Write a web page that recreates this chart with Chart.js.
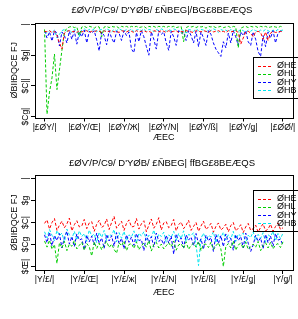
<!DOCTYPE html>
<html>
<head>
<meta charset="utf-8">
<script src="https://cdn.jsdelivr.net/npm/chart.js@4/dist/chart.umd.min.js"></script>
<style>
  html, body { margin: 0; padding: 0; background: #fff; }
  #wrap { position: relative; width: 298px; height: 319px; overflow: hidden; }
  canvas { position: absolute; left: 0; }
</style>
</head>
<body>
<div id="wrap">
  <canvas id="top" width="298" height="155" style="top:0"></canvas>
  <canvas id="bottom" width="298" height="164" style="top:155px"></canvas>
</div>
<script>
// labels (as they appear in the picture)
var seriesNames = ["ØHE", "ØHL", "ØHY", "ØHB"];
var colors = ["#ff0000", "#00cd00", "#0000ff", "#00e5ee"];
var xTickPos = [0, 16, 32, 48, 64, 80, 96];
var xTicksTop = ["|£ØY/|", "|£ØY/Œ|", "|£ØY/Ж|", "|£ØY/N|", "|£ØY/ß|", "|£ØY/ǥ|", "|£ØØ/|"];
var xTicksBottom = ["|Y/£/|", "|Y/£/Œ|", "|Y/£/ж|", "|Y/£/N|", "|Y/£/ß|", "|Y/£/ǥ|", "|Y/ǥ/|"];
var yTicksTop = [0, -50, -100, -150];
var yLabelsTop = ["|", "$g|", "$C||", "$Cg|"];
var yTicksBottom = [0, -5, -10, -15, -20];
var yLabelsBottom = ["|", "$g", "$C|", "$Cg", "$Œ|"];
var titleTop = "£ØѴ/P/C9/ D'YØB/ £ÑBEG|/BG£8BEÆQS";
var titleBottom = "£ØѴ/P/C9/ D'YØB/ £ÑBEG| ffBG£8BEÆQS";
var xTitle = "ÆEC";
var yTitle = "ØBIIÐQCE FJ";

// top panel series
var redTop = [
  -11,-12,-10,-13,-11,-18,-30,-40,-14,-11,
  -10,-12,-11,-13,-10,-12,-11,-10,-13,-11,
  -12,-10,-11,-13,-10,-12,-11,-10,-12,-11,
  -13,-10,-11,-12,-10,-11,-13,-10,-12,-11,
  -10,-12,-11,-13,-10,-11,-12,-10,-11,-13,
  -10,-12,-11,-10,-13,-11,-12,-10,-11,-12,
  -13,-10,-11,-12,-10,-11,-13,-10,-12,-11,
  -10,-12,-11,-13,-10,-12,-11,-10,-13,-32,
  -22,-12,-11,-14,-20,-12,-11,-13,-24,-12,
  -26,-14,-11,-13,-12,-11,-12];
var greenTop = [
  -8,-146,-110,-87,-48,-106,-74,-42,-12,-6,
  -4,-3,-5,-4,-18,-4,-3,-5,-3,-4,
  -6,-3,-4,-20,-4,-3,-5,-3,-4,-3,
  -6,-3,-4,-3,-5,-3,-4,-3,-5,-4,
  -3,-6,-3,-4,-3,-5,-3,-4,-3,-5,
  -3,-4,-3,-5,-4,-3,-28,-5,-3,-4,
  -3,-5,-3,-4,-3,-6,-3,-4,-3,-5,
  -4,-3,-5,-4,-3,-5,-3,-4,-38,-6,
  -4,-3,-5,-3,-4,-3,-5,-3,-4,-3,
  -5,-4,-3,-4,-5,-3,-4];
var blueTop = [
  -10,-22,-12,-27,-10,-14,-35,-12,-18,-30,
  -11,-24,-10,-32,-12,-20,-9,-30,-11,-14,
  -10,-25,-43,-12,-18,-33,-10,-22,-30,-11,
  -14,-26,-10,-18,-12,-40,-46,-13,-28,-10,
  -20,-36,-50,-12,-24,-40,-10,-16,-12,-30,
  -42,-11,-20,-34,-10,-14,-12,-26,-10,-18,
  -30,-11,-36,-12,-22,-34,-10,-16,-30,-40,
  -46,-52,-28,-38,-14,-30,-10,-20,-34,-12,
  -18,-10,-28,-34,-12,-24,-44,-52,-18,-36,
  -12,-22,-10,-30,-14,-11,-12];
var cyanTop = [
  -12,-14,-10,-13,-9,-22,-16,-10,-8,-11,
  -9,-13,-8,-10,-20,-9,-7,-11,-8,-10,
  -7,-12,-9,-8,-11,-7,-9,-12,-8,-10,
  -7,-9,-11,-8,-10,-7,-12,-9,-8,-10,
  -7,-11,-8,-9,-12,-8,-10,-7,-9,-11,
  -8,-10,-7,-9,-12,-8,-10,-14,-8,-9,
  -11,-7,-10,-8,-9,-12,-8,-10,-7,-9,
  -13,-8,-10,-9,-12,-8,-10,-9,-11,-8,
  -10,-13,-9,-11,-8,-10,-12,-9,-11,-8,
  -10,-12,-9,-11,-8,-10,-9];

// bottom panel series
var redBottom = [
  -10.2,-9.4,-11.5,-10.0,-9.1,-11.8,-10.6,-9.7,-11.2,-10.3,
  -9.0,-11.9,-10.5,-9.6,-11.0,-10.8,-9.3,-11.4,-10.1,-9.8,
  -12.0,-10.4,-9.5,-11.1,-10.7,-9.2,-11.6,-10.0,-8.6,-11.3,
  -10.5,-9.7,-11.8,-10.2,-9.4,-11.0,-10.9,-9.1,-11.5,-10.3,
  -9.6,-12.1,-10.6,-9.2,-11.3,-10.4,-8.9,-11.7,-10.1,-9.8,
  -11.2,-10.7,-9.3,-11.9,-10.5,-9.9,-11.4,-10.6,-9.5,-11.8,
  -10.9,-10.0,-12.0,-10.8,-9.7,-11.6,-11.0,-10.2,-12.2,-10.9,
  -10.1,-11.7,-11.2,-10.4,-12.1,-10.7,-10.0,-11.9,-11.3,-10.5,
  -12.3,-11.0,-10.2,-11.8,-11.4,-10.6,-12.2,-11.1,-10.3,-11.9,
  -11.5,-10.4,-12.0,-10.9,-10.1,-11.6,-11.2];
var greenBottom = [
  -14.2,-15.6,-14.0,-16.1,-15.0,-19.3,-14.6,-15.8,-14.3,-16.4,
  -14.9,-15.4,-14.1,-16.0,-15.2,-14.5,-16.3,-14.8,-15.5,-17.6,
  -14.4,-15.9,-14.7,-16.2,-15.1,-14.3,-15.7,-14.9,-16.1,-17.0,
  -14.6,-15.3,-14.2,-16.4,-15.0,-14.8,-15.9,-14.4,-16.2,-15.2,
  -14.7,-15.6,-14.1,-16.5,-15.0,-14.5,-15.8,-14.9,-16.0,-15.3,
  -14.6,-15.5,-14.2,-16.3,-15.1,-14.8,-15.9,-14.4,-16.1,-15.2,
  -14.7,-15.6,-14.3,-16.4,-15.0,-14.9,-15.7,-14.5,-16.2,-15.3,
  -14.6,-16.0,-20.0,-15.4,-14.8,-15.8,-14.2,-16.3,-15.1,-14.7,
  -15.9,-14.4,-16.1,-15.5,-14.9,-15.6,-14.3,-16.4,-15.2,-14.6,
  -15.8,-14.5,-16.0,-15.1,-14.8,-15.7,-14.4];
var blueBottom = [
  -12.8,-14.6,-12.2,-15.3,-13.0,-14.1,-12.5,-15.8,-13.4,-12.0,
  -14.9,-13.2,-15.5,-12.6,-14.0,-13.7,-16.2,-12.9,-14.4,-13.1,
  -15.1,-12.4,-14.7,-13.5,-15.9,-12.7,-14.2,-13.0,-15.4,-12.3,
  -14.8,-13.6,-16.0,-12.8,-14.5,-13.3,-15.2,-12.5,-14.1,-13.9,
  -16.4,-12.7,-14.6,-13.2,-15.6,-12.4,-14.3,-13.8,-15.0,-12.9,
  -14.7,-13.1,-17.2,-12.6,-14.4,-13.5,-15.7,-12.8,-14.0,-13.3,
  -15.3,-12.5,-14.9,-13.7,-16.1,-12.9,-14.2,-13.4,-16.6,-12.7,
  -14.8,-13.0,-15.5,-12.6,-14.5,-13.6,-16.3,-12.8,-14.1,-13.2,
  -15.8,-12.4,-14.7,-16.6,-15.1,-12.9,-14.3,-13.5,-16.0,-12.7,
  -14.6,-13.1,-15.4,-12.5,-14.0,-13.8,-15.2];
var cyanBottom = [
  -12.1,-13.5,-11.6,-12.9,-14.2,-11.8,-13.0,-12.4,-14.5,-11.5,
  -12.8,-13.7,-12.0,-14.0,-11.9,-13.2,-12.5,-14.3,-11.7,-13.1,
  -12.6,-14.6,-12.2,-13.4,-11.8,-14.1,-12.7,-13.0,-11.6,-14.4,
  -12.3,-13.6,-12.0,-14.2,-12.8,-13.3,-11.9,-14.7,-12.4,-13.1,
  -12.1,-14.0,-12.9,-13.5,-11.7,-14.3,-12.6,-13.2,-12.2,-14.5,
  -12.8,-13.4,-12.0,-14.1,-12.5,-13.7,-11.9,-14.4,-12.7,-13.0,
  -12.3,-15.0,-19.8,-13.6,-12.4,-14.2,-12.9,-13.3,-12.1,-14.6,
  -12.7,-13.5,-12.2,-14.0,-12.8,-13.8,-12.0,-14.3,-12.6,-13.1,
  -12.4,-14.8,-12.9,-13.4,-12.1,-14.1,-12.7,-13.6,-12.3,-14.5,
  -12.8,-13.2,-12.0,-14.2,-12.5,-13.7,-12.4];

var FONT = '"Liberation Sans", Arial, sans-serif';

function pts(arr) {
  return arr.map(function (v, i) { return { x: i, y: v }; });
}

// frame, titles, rotated y labels and legend (R style)
var decor = {
  id: 'decor',
  afterDraw: function (chart, args, o) {
    var ctx = chart.ctx, a = chart.chartArea, y = chart.scales.y;
    ctx.save();
    ctx.strokeStyle = '#000';
    ctx.lineWidth = 1;
    ctx.setLineDash([]);
    ctx.strokeRect(Math.round(a.left) + 0.5, Math.round(a.top) + 0.5,
      Math.round(a.right - a.left), Math.round(a.bottom - a.top));

    ctx.fillStyle = '#000';
    ctx.textAlign = 'center';
    ctx.textBaseline = 'middle';
    ctx.font = '9.5px ' + FONT;
    ctx.fillText(o.title, 162, o.titleY);
    ctx.font = '9px ' + FONT;
    ctx.fillText(xTitle, (a.left + a.right) / 2, a.bottom + o.xTitleOff);

    ctx.save();
    ctx.translate(15, (a.top + a.bottom) / 2);
    ctx.rotate(-Math.PI / 2);
    ctx.fillText(yTitle, 0, 0);
    ctx.restore();

    ctx.font = '8.5px ' + FONT;
    o.yTicks.forEach(function (v, i) {
      ctx.save();
      ctx.translate(26, y.getPixelForValue(v));
      ctx.rotate(-Math.PI / 2);
      ctx.fillText(o.yLabels[i], 0, 0);
      ctx.restore();
    });

    // legend (transparent background)
    var lx = 253, ly = o.legTop;
    ctx.strokeStyle = '#000';
    ctx.strokeRect(lx + 0.5, ly + 0.5, 60, 41);
    ctx.font = '9px ' + FONT;
    ctx.textAlign = 'left';
    seriesNames.forEach(function (n, i) {
      var yy = ly + 8.5 + i * 8.3;
      ctx.strokeStyle = colors[i];
      ctx.setLineDash([3, 2]);
      ctx.beginPath();
      ctx.moveTo(258, Math.round(yy) + 0.5);
      ctx.lineTo(273, Math.round(yy) + 0.5);
      ctx.stroke();
      ctx.setLineDash([]);
      ctx.fillText(n, 277, yy);
    });
    ctx.restore();
  }
};

function makeChart(id, series, yMin, yMax, yTicks, yLabels, xLabels, pad, deco) {
  var ds = series.map(function (s, i) {
    return {
      label: seriesNames[i],
      data: pts(s),
      borderColor: colors[i],
      borderWidth: 1,
      borderDash: [3, 2],
      pointRadius: 0,
      fill: false,
      tension: 0
    };
  });
  deco.yTicks = yTicks;
  deco.yLabels = yLabels;
  return new Chart(document.getElementById(id), {
    type: 'line',
    data: { datasets: ds },
    plugins: [decor],
    options: {
      responsive: false,
      animation: false,
      devicePixelRatio: 1,
      layout: { padding: pad },
      plugins: { legend: { display: false }, tooltip: { enabled: false }, decor: deco },
      scales: {
        x: {
          type: 'linear',
          min: -3.84,
          max: 99.84,
          afterFit: function (s) { s.height = 30; },
          afterBuildTicks: function (s) { s.ticks = xTickPos.map(function (v) { return { value: v }; }); },
          ticks: {
            autoSkip: false, maxRotation: 0, padding: 1, color: '#000',
            font: { size: 8.5, family: FONT },
            callback: function (v, i) { return xLabels[i]; }
          },
          grid: { drawOnChartArea: false, drawTicks: true, tickLength: 4, color: '#000' },
          border: { display: false }
        },
        y: {
          min: yMin,
          max: yMax,
          afterFit: function (s) { s.width = 0; },
          afterBuildTicks: function (s) { s.ticks = yTicks.map(function (v) { return { value: v }; }); },
          ticks: { display: false },
          grid: { drawOnChartArea: false, drawTicks: true, tickLength: 4, color: '#000' },
          border: { display: false }
        }
      }
    }
  });
}

makeChart('top', [redTop, greenTop, blueTop, cyanTop], -151.5, 2.5,
  yTicksTop, yLabelsTop, xTicksTop,
  { left: 35, right: 5.5, top: 23, bottom: 7.5 },
  { title: titleTop, titleY: 10, xTitleOff: 20.5, legTop: 57 });

makeChart('bottom', [redBottom, greenBottom, blueBottom, cyanBottom], -20.8, 0.8,
  yTicksBottom, yLabelsBottom, xTicksBottom,
  { left: 35, right: 5.5, top: 20, bottom: 19 },
  { title: titleBottom, titleY: 8, xTitleOff: 23, legTop: 35 });
</script>
</body>
</html>
